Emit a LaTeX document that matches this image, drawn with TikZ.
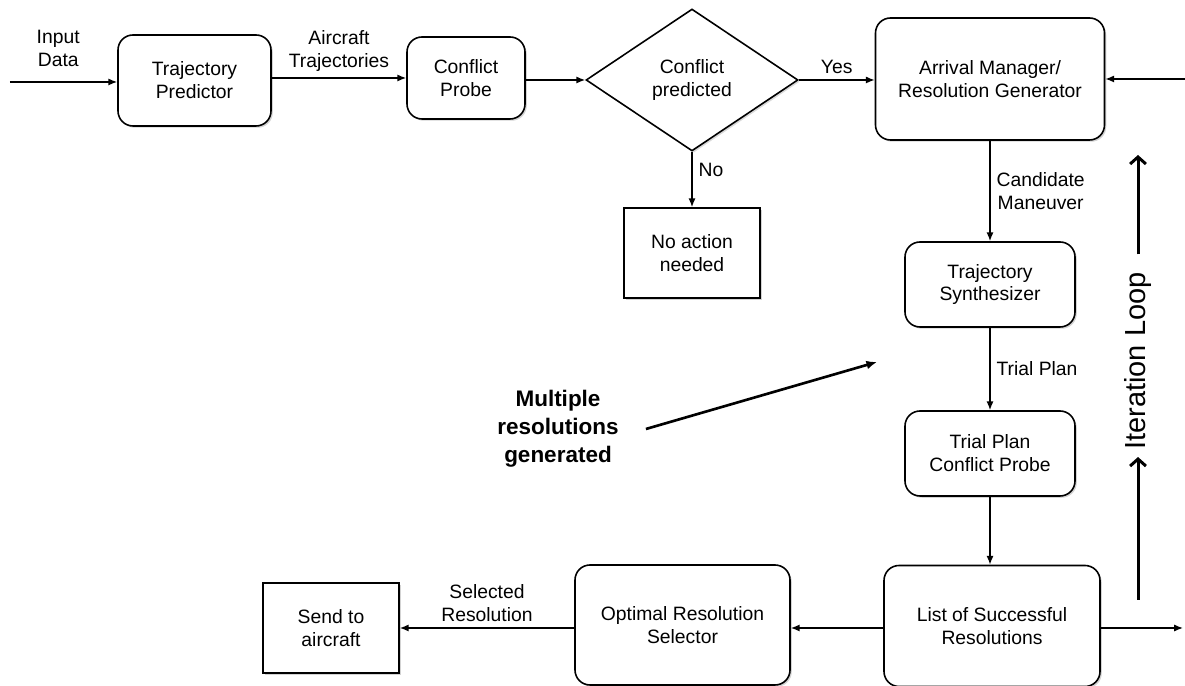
\documentclass[tikz,border=0pt]{standalone}
\usepackage{fontspec}
\setmainfont{Liberation Sans}
\usetikzlibrary{calc, arrows.meta, shapes.geometric, shadows}

\begin{document}
\begin{tikzpicture}[
        box/.style={rectangle, draw, rounded corners=0.3cm, line width=0.9pt, fill=white, drop shadow={shadow xshift=1pt, shadow yshift=-1pt, opacity=0.35}, font=\fontsize{11}{13}\selectfont, align=center, inner sep=2pt},
        sqbox/.style={box, sharp corners},
        decision/.style={diamond, draw, line width=0.9pt, fill=white, drop shadow={shadow xshift=1pt, shadow yshift=-1pt, opacity=0.3}, font=\fontsize{11}{13}\selectfont, align=center, inner sep=0pt, minimum width=4.24cm, minimum height=2.84cm},
        lbl/.style={font=\fontsize{11}{13}\selectfont, align=center},
        arrow/.style={-{Latex[length=5pt, width=4pt]}, line width=0.8pt},
        bigarrow/.style={-{Straight Barb[length=4pt, width=9pt]}, line width=1.7pt},
        pointer/.style={-{Latex[length=6pt, width=5pt]}, line width=1.5pt}
    ]
        \useasboundingbox (0,0) rectangle (23.7,13.72);

        \node[box, minimum width=3.06cm, minimum height=1.82cm] (pred) at (3.89,12.11) {Trajectory\\Predictor};
        \node[box, minimum width=2.36cm, minimum height=1.64cm] (probe) at (9.32,12.16) {Conflict\\Probe};
        \node[decision] (cp) at (13.84,12.12) {Conflict\\predicted};
        \node[box, minimum width=4.58cm, minimum height=2.44cm] (arrival) at (19.8,12.14) {Arrival Manager/\\Resolution Generator};
        \node[sqbox, minimum width=2.72cm, minimum height=1.8cm] (noact) at (13.84,8.66) {No action\\needed};
        \node[box, minimum width=3.4cm, minimum height=1.7cm] (synth) at (19.8,8.03) {Trajectory\\Synthesizer};
        \node[box, minimum width=3.4cm, minimum height=1.7cm] (tpprobe) at (19.8,4.65) {Trial Plan\\Conflict Probe};
        \node[box, minimum width=4.32cm, minimum height=2.42cm] (list) at (19.84,1.2) {List of Successful\\Resolutions};
        \node[box, minimum width=4.3cm, minimum height=2.4cm] (optsel) at (13.65,1.22) {Optimal Resolution\\Selector};
        \node[sqbox, minimum width=2.72cm, minimum height=1.8cm] (send) at (6.62,1.16) {Send to\\aircraft};

        \coordinate (in) at (0.2,12.08);
        \coordinate (fromright) at (23.7,12.14);
        \coordinate (toright) at (23.66,1.16);

        \draw[arrow] (in) -- node[lbl, above=5pt, pos=0.45] {Input\\Data} (in -| pred.west);
        \draw[arrow] (probe.west -| pred.east) -- node[lbl, above] {Aircraft\\Trajectories} (probe.west);
        \draw[arrow] (cp.west -| probe.east) -- (cp.west);
        \draw[arrow] (cp.east) -- node[lbl, above] {Yes} (cp.east -| arrival.west);
        \draw[arrow] (fromright) -- (arrival.east);
        \draw[arrow] (cp.south) -- node[lbl, right, pos=0.32] {No} (noact.north);
        \draw[arrow] (arrival.south) -- node[lbl, right] {Candidate\\Maneuver} (synth.north);
        \draw[arrow] (synth.south) -- node[lbl, right] {Trial Plan} (tpprobe.north);
        \draw[arrow] (tpprobe.south) -- (tpprobe.south |- list.north);
        \draw[arrow] (list.west |- send) -- (optsel.east |- send);
        \draw[arrow] (optsel.west |- send) -- node[lbl, above] {Selected\\Resolution} (send.east);
        \draw[arrow] (list.east |- send) -- (toright);

        \node[font=\fontsize{16.5}{20}\selectfont, rotate=90, inner sep=4pt] (iter) at (22.76,6.5) {Iteration Loop};
        \coordinate (iterlow) at (22.76,1.72);
        \coordinate (iterhigh) at (22.76,10.62);
        \draw[bigarrow] (iterlow) -- (iter.west);
        \draw[bigarrow, shorten <=6pt] (iter.east) -- (iterhigh);

        \node[font=\bfseries\fontsize{12.8}{16}\selectfont, align=center] (multi) at (11.16,5.14) {Multiple\\resolutions\\generated};
        \coordinate (multihead) at (17.54,6.48);
        \draw[pointer] ([xshift=12pt]multi.east) -- (multihead);
    \end{tikzpicture}
\end{document}
